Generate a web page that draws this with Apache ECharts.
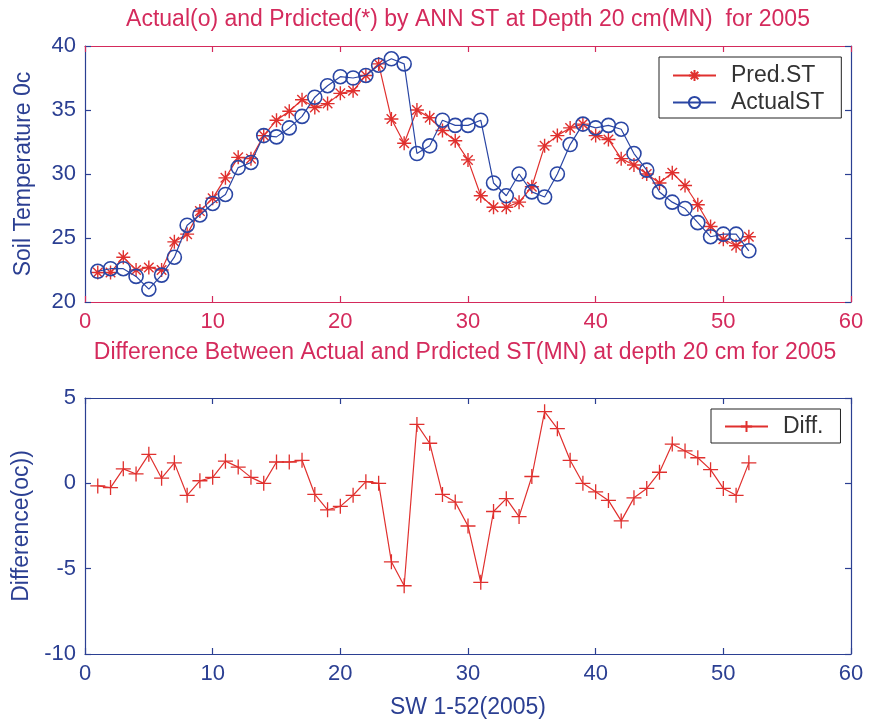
<!DOCTYPE html>
<html>
<head>
<meta charset="utf-8">
<script src="https://cdn.jsdelivr.net/npm/echarts@6/dist/echarts.min.js"></script>
<style>
html,body{margin:0;padding:0;background:#fff;}
#chart{width:869px;height:722px;}
</style>
</head>
<body>
<div id="chart"></div>
<script>
// ---- data ----
var weeks = [1,2,3,4,5,6,7,8,9,10,11,12,13,14,15,16,17,18,19,20,21,22,23,24,25,26,27,28,29,30,31,32,33,34,35,36,37,38,39,40,41,42,43,44,45,46,47,48,49,50,51,52];
var predST = [22.3,22.3,23.5,22.5,22.7,22.5,24.7,25.3,27.1,28.1,29.7,31.3,31.2,33.0,34.2,34.9,35.8,35.2,35.5,36.3,36.5,37.7,38.6,34.3,32.4,35.0,34.4,33.4,32.6,31.1,28.3,27.4,27.4,27.8,29.0,32.2,33.0,33.6,33.9,33.0,32.7,31.2,30.7,30.0,29.3,30.1,29.1,27.6,25.9,24.9,24.4,25.1];
var actualST = [22.4,22.6,22.6,22.0,21.0,22.1,23.5,26.0,26.8,27.7,28.4,30.5,30.9,33.0,32.9,33.6,34.5,36.0,36.9,37.6,37.5,37.7,38.5,39.0,38.6,31.6,32.2,34.2,33.8,33.8,34.2,29.3,28.3,30.0,28.6,28.2,30.0,32.3,33.9,33.6,33.8,33.5,31.6,30.3,28.6,27.8,27.3,26.2,25.1,25.3,25.3,24.0];
var diffST = [-0.15,-0.25,0.85,0.55,1.7,0.3,1.2,-0.7,0.15,0.35,1.3,0.95,0.35,0.0,1.25,1.25,1.35,-0.65,-1.55,-1.35,-0.7,0.1,0.0,-4.6,-6.0,3.45,2.35,-0.65,-1.1,-2.5,-5.8,-1.65,-0.9,-1.95,0.4,4.2,3.2,1.35,0.0,-0.5,-1.0,-2.2,-0.85,-0.3,0.65,2.3,1.9,1.5,0.8,-0.3,-0.7,1.2];
var xTicks = [0,10,20,30,40,50,60];
var yTicksTop = [20,25,30,35,40];
var yTicksBottom = [-10,-5,0,5];

var title1 = 'Actual(o) and Prdicted(*) by ANN ST at Depth 20 cm(MN)  for 2005';
var title2 = 'Difference Between Actual and Prdicted ST(MN) at depth 20 cm for 2005';

// ---- styles ----
var PINK = '#d42a5c';
var BLUE = '#2b3f92';
var RED = '#e0302e';
var SBLUE = '#2a46a4';
var FONT = 'Liberation Sans, Arial, sans-serif';

function pairs(ys){ return weeks.map(function(w,i){ return [w, ys[i]]; }); }

var starPath = 'path://M0,5L10,5M5,0L5,10M1.6,1.6L8.4,8.4M1.6,8.4L8.4,1.6';
var plusPath = 'path://M0,5L10,5M5,0L5,10';

function xAx(grid, pos, color, showLabel){
  return {
    type:'value', gridIndex:grid, position:pos, min:xTicks[0], max:xTicks[xTicks.length-1], interval:10,
    axisLine:{show:true, onZero:false, lineStyle:{color:color, width:1.2}},
    axisTick:{show:true, inside:true, length:6, lineStyle:{color:color, width:1.2}},
    axisLabel:{show:showLabel, color:color, fontSize:22, fontFamily:FONT, margin:9},
    splitLine:{show:false}
  };
}
function yAx(grid, pos, color, showLabel, mn, mx){
  return {
    type:'value', gridIndex:grid, position:pos, min:mn, max:mx, interval:5,
    axisLine:{show:true, onZero:false, lineStyle:{color:color, width:1.2}},
    axisTick:{show:true, inside:true, length:6, lineStyle:{color:color, width:1.2}},
    axisLabel:{show:showLabel, color:color, fontSize:22, fontFamily:FONT, margin:9},
    splitLine:{show:false}
  };
}

var xa0 = xAx(0,'bottom',PINK,true);
var xa1 = xAx(0,'top',PINK,false);
var xa2 = xAx(1,'bottom',BLUE,true);
xa2.name = 'SW 1-52(2005)'; xa2.nameLocation='middle'; xa2.nameGap=42;
xa2.nameTextStyle = {color:BLUE, fontSize:23, fontFamily:FONT};
var xa3 = xAx(1,'top',BLUE,false);

var ya0 = yAx(0,'left',BLUE,true,yTicksTop[0],yTicksTop[yTicksTop.length-1]);
ya0.name='Soil Temperature 0c'; ya0.nameLocation='middle'; ya0.nameGap=50; ya0.nameRotate=90;
ya0.nameTextStyle={color:BLUE, fontSize:23, fontFamily:FONT};
var ya1 = yAx(0,'right',BLUE,false,yTicksTop[0],yTicksTop[yTicksTop.length-1]);
var ya2 = yAx(1,'left',BLUE,true,yTicksBottom[0],yTicksBottom[yTicksBottom.length-1]);
ya2.name='Difference(oc))'; ya2.nameLocation='middle'; ya2.nameGap=46; ya2.nameRotate=90;
ya2.nameTextStyle={color:BLUE, fontSize:23, fontFamily:FONT};
var ya3 = yAx(1,'right',BLUE,false,yTicksBottom[0],yTicksBottom[yTicksBottom.length-1]);

var chart = echarts.init(document.getElementById('chart'), null, {renderer:'canvas'});
chart.setOption({
  backgroundColor:'#ffffff',
  animation:false,
  textStyle:{fontFamily:FONT},
  grid:[
    {left:85, top:46, width:766, height:256, containLabel:false},
    {left:85, top:398, width:766, height:256, containLabel:false}
  ],
  xAxis:[xa0, xa1, xa2, xa3],
  yAxis:[ya0, ya1, ya2, ya3],
  graphic:[
    {type:'text', style:{text:title1, x:468, y:20, textAlign:'center', textVerticalAlign:'middle', fill:PINK, font:'23px '+FONT}, z:10, silent:true},
    {type:'text', style:{text:title2, x:465, y:353, textAlign:'center', textVerticalAlign:'middle', fill:PINK, font:'23px '+FONT}, z:10, silent:true}
  ],
  legend:[
    {
      show:true, orient:'vertical', left:659, top:57, padding:[7,17,4,13], itemGap:4,
      itemWidth:43, itemHeight:14, borderColor:'#222', borderWidth:1, backgroundColor:'#fff',
      textStyle:{fontSize:23, fontFamily:FONT, color:'#333', lineHeight:22, padding:[0,0,0,10]},
      data:['Pred.ST','ActualST']
    },
    {
      show:true, orient:'vertical', left:711, top:409, padding:[6,17,5,13],
      itemWidth:43, itemHeight:14, borderColor:'#222', borderWidth:1, backgroundColor:'#fff',
      textStyle:{fontSize:23, fontFamily:FONT, color:'#333', lineHeight:22, padding:[0,0,0,10]},
      data:['Diff.']
    }
  ],
  series:[
    {
      name:'Pred.ST', type:'line', xAxisIndex:0, yAxisIndex:0, data:pairs(predST),
      symbol:starPath, symbolSize:14,
      lineStyle:{color:RED, width:1.2},
      itemStyle:{color:'rgba(0,0,0,0)', borderColor:RED, borderWidth:1.4},
      z:2
    },
    {
      name:'ActualST', type:'line', xAxisIndex:0, yAxisIndex:0, data:pairs(actualST),
      symbol:'circle', symbolSize:14,
      lineStyle:{color:SBLUE, width:1.2},
      itemStyle:{color:'rgba(0,0,0,0)', borderColor:SBLUE, borderWidth:1.6},
      z:3
    },
    {
      name:'Diff.', type:'line', xAxisIndex:2, yAxisIndex:2, data:pairs(diffST),
      symbol:plusPath, symbolSize:15,
      lineStyle:{color:RED, width:1.2},
      itemStyle:{color:'rgba(0,0,0,0)', borderColor:RED, borderWidth:1.3},
      z:2
    }
  ]
});
</script>
</body>
</html>
